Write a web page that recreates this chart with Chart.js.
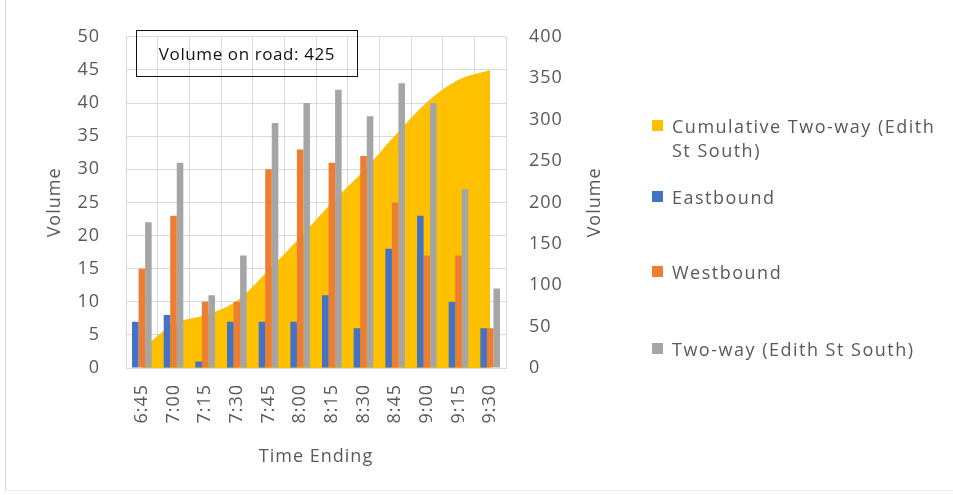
<!DOCTYPE html>
<html>
<head>
<meta charset="utf-8">
<script src="https://cdn.jsdelivr.net/npm/chart.js@4/dist/chart.umd.min.js"></script>
<style>
  html, body { margin: 0; padding: 0; background: #fff; }
  #wrap { position: relative; width: 953px; height: 495px; overflow: hidden; font-family: "Open Sans", sans-serif; }
  #frame { position: absolute; left: 5px; top: 0; width: 948px; height: 491px; border-left: 1px solid #d6d6d6; border-bottom: 1px solid #eeeeee; box-sizing: border-box; }
  #chart { position: absolute; left: 0; top: 0; }
  #note { position: absolute; left: 136px; top: 30px; width: 222px; height: 47px; border: 1.5px solid #111; box-sizing: border-box;
          display: flex; align-items: center; justify-content: center; font-size: 17px; letter-spacing: 0.6px; color: #111; }
  .item { position: absolute; left: 652px; color: #595959; font-size: 18px; line-height: 24px; letter-spacing: 1.5px; }
  .sw { position: absolute; left: 0; top: 6px; width: 11px; height: 11px; }
  .txt { position: absolute; left: 20px; top: 0; width: 282px; }
</style>
</head>
<body>
<div id="wrap">
  <div id="frame"></div>
  <canvas id="chart" width="953" height="495"></canvas>
  <div id="note"></div>
  <div id="legend"></div>
</div>
<script>
// 15-minute counts on Edith St South, by interval end time
const categories = ['6:45', '7:00', '7:15', '7:30', '7:45', '8:00', '8:15', '8:30', '8:45', '9:00', '9:15', '9:30'];
const eastbound  = [7, 8, 1, 7, 7, 7, 11, 6, 18, 23, 10, 6];
const westbound  = [15, 23, 10, 10, 30, 33, 31, 32, 25, 17, 17, 6];
const twoWay     = [22, 31, 11, 17, 37, 40, 42, 38, 43, 40, 27, 12];
const cumulative = [22, 53, 64, 81, 118, 158, 200, 238, 281, 321, 348, 360];

const seriesNames = ['Cumulative Two-way (Edith St South)', 'Eastbound', 'Westbound', 'Two-way (Edith St South)'];
const seriesColors = ['#FFC000', '#4472C4', '#ED7D31', '#A5A5A5'];

const leftAxisMax = 50, leftAxisStep = 5;
const rightAxisMax = 400, rightAxisStep = 50;
const axisTitle = 'Volume';
const xTitle = 'Time Ending';
const noteText = 'Volume on road: 425';

const TEXT = '#595959';
const GRID = '#d9d9d9';
const FONT = '"Open Sans", sans-serif';

document.getElementById('note').textContent = noteText;

// legend entries, stacked down the right-hand side
const legendTops = [114, 185, 260, 337];
const legend = document.getElementById('legend');
seriesNames.forEach((name, i) => {
  const item = document.createElement('div');
  item.className = 'item';
  item.style.top = legendTops[i] + 'px';
  const sw = document.createElement('div');
  sw.className = 'sw';
  sw.style.background = seriesColors[i];
  const t = document.createElement('div');
  t.className = 'txt';
  t.textContent = name;
  item.appendChild(sw);
  item.appendChild(t);
  legend.appendChild(item);
});

// slightly looser letter spacing for all canvas text
const spacing = {
  id: 'spacing',
  beforeLayout(chart) { chart.ctx.letterSpacing = '1px'; },
  beforeDraw(chart) { chart.ctx.letterSpacing = '1px'; }
};

// secondary axis title, reading bottom-to-top like the primary one
const rightTitle = {
  id: 'rightTitle',
  afterDraw(chart) {
    const s = chart.scales.yRight;
    const { ctx, chartArea } = chart;
    ctx.save();
    ctx.translate(s.left + 89, (chartArea.top + chartArea.bottom) / 2);
    ctx.rotate(-Math.PI / 2);
    ctx.font = '18px ' + FONT;
    ctx.fillStyle = TEXT;
    ctx.textAlign = 'center';
    ctx.textBaseline = 'middle';
    ctx.fillText(axisTitle, 0, 0);
    ctx.restore();
  }
};

function draw() {
  new Chart(document.getElementById('chart'), {
    data: {
      labels: categories,
      datasets: [
        {
          type: 'line', label: seriesNames[0], data: cumulative, yAxisID: 'yRight',
          backgroundColor: seriesColors[0], borderWidth: 0, pointRadius: 0,
          fill: 'origin', cubicInterpolationMode: 'monotone', order: 2
        },
        { type: 'bar', label: seriesNames[1], data: eastbound, yAxisID: 'y', backgroundColor: seriesColors[1], order: 1 },
        { type: 'bar', label: seriesNames[2], data: westbound, yAxisID: 'y', backgroundColor: seriesColors[2], order: 1 },
        { type: 'bar', label: seriesNames[3], data: twoWay, yAxisID: 'y', backgroundColor: seriesColors[3], order: 1 }
      ]
    },
    options: {
      responsive: false,
      animation: false,
      datasets: { bar: { categoryPercentage: 0.62, barPercentage: 1.0 } },
      layout: { padding: { left: 0, top: 23, right: 387, bottom: 0 } },
      plugins: { legend: { display: false }, tooltip: { enabled: false } },
      scales: {
        x: {
          offset: true,
          grid: { color: GRID, offset: true, drawTicks: false },
          border: { color: GRID },
          ticks: { color: TEXT, font: { family: FONT, size: 18 }, minRotation: 90, maxRotation: 90, padding: 16, autoSkip: false },
          title: { display: true, text: xTitle, color: TEXT, font: { family: FONT, size: 18 }, padding: { top: 4, bottom: 27 } },
          afterFit(s) { s.height = 127; }
        },
        y: {
          position: 'left', min: 0, max: leftAxisMax,
          grid: { color: GRID, drawTicks: false },
          border: { display: false },
          ticks: { stepSize: leftAxisStep, color: TEXT, font: { family: FONT, size: 18 }, padding: 26 },
          title: { display: true, text: axisTitle, color: TEXT, font: { family: FONT, size: 18 }, padding: { top: 44, bottom: 0 } },
          afterFit(s) { s.width = 126; }
        },
        yRight: {
          position: 'right', min: 0, max: rightAxisMax,
          grid: { display: false, drawTicks: false },
          border: { display: false },
          ticks: { stepSize: rightAxisStep, color: TEXT, font: { family: FONT, size: 18 }, padding: 23 },
          afterFit(s) { s.width = 60; }
        }
      }
    },
    plugins: [spacing, rightTitle]
  });
}

if (document.fonts && document.fonts.load) {
  document.fonts.load('18px "Open Sans"').then(draw, draw);
} else {
  draw();
}
</script>
</body>
</html>
